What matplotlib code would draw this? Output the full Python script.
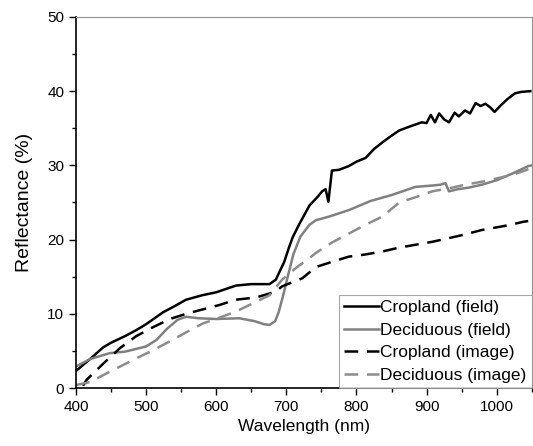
import matplotlib.pyplot as plt
from matplotlib.ticker import MultipleLocator

plt.rcParams['font.family'] = ['Liberation Sans', 'DejaVu Sans']

# Cropland (field)
crop_field_wl = [400, 410, 420, 439, 450, 470, 486, 500, 524, 540, 557, 580, 600, 628, 650,
                 676, 685, 690, 697, 704, 709, 718, 733, 745, 751, 756, 760, 765, 775, 789,
                 800, 813, 825, 837, 850, 861, 875, 893, 900, 906, 912, 918, 925, 932, 940,
                 946, 955, 962, 970, 977, 984, 991, 997, 1005, 1015, 1026, 1035, 1048]
crop_field_r = [2.3, 3.1, 3.9, 5.5, 6.1, 7.0, 7.8, 8.6, 10.2, 11.0, 11.9, 12.5, 12.9, 13.8, 14.0,
                14.0, 14.6, 15.6, 17.0, 19.0, 20.3, 22.0, 24.6, 25.8, 26.5, 26.8, 25.1, 29.3, 29.4, 29.9,
                30.5, 31.0, 32.2, 33.1, 34.0, 34.7, 35.2, 35.8, 35.7, 36.8, 35.8, 37.0, 36.2, 35.8, 37.1,
                36.6, 37.4, 37.0, 38.4, 38.0, 38.3, 37.8, 37.2, 38.0, 38.9, 39.7, 39.9, 40.0]

# Deciduous (field)
dec_field_wl = [400, 420, 448, 470, 500, 515, 530, 545, 557, 575, 600, 633, 655, 668, 676,
                684, 689, 695, 702, 710, 720, 733, 742, 761, 790, 820, 850, 884, 910, 920,
                927, 932, 945, 960, 979, 1000, 1020, 1045, 1050]
dec_field_r = [2.9, 3.9, 4.7, 4.9, 5.6, 6.5, 8.0, 9.2, 9.6, 9.4, 9.3, 9.4, 9.0, 8.6, 8.5,
               9.0, 10.2, 12.3, 15.0, 18.0, 20.4, 22.0, 22.6, 23.1, 24.0, 25.2, 26.0, 27.1, 27.3, 27.4,
               27.6, 26.5, 26.8, 27.0, 27.4, 28.0, 28.8, 29.9, 30.0]

# Cropland (image)
crop_img_wl = [410, 415, 439, 463, 486, 510, 534, 557, 581, 605, 628, 647, 657, 685, 694,
               723, 742, 765, 789, 813, 837, 860, 884, 908, 932, 955, 979, 1003, 1020, 1038, 1045]
crop_img_r = [0.3, 1.1, 3.3, 5.4, 7.0, 8.2, 9.3, 10.0, 10.6, 11.2, 11.9, 12.1, 12.2, 13.0, 13.7,
              14.8, 16.3, 17.0, 17.7, 18.0, 18.4, 18.9, 19.3, 19.7, 20.2, 20.7, 21.3, 21.7, 22.0, 22.4, 22.5]

# Deciduous (image)
dec_img_wl = [400, 420, 440, 463, 486, 510, 534, 557, 581, 605, 628, 652, 676, 694, 714,
              733, 742, 765, 789, 813, 837, 861, 884, 908, 932, 955, 979, 1003, 1025, 1043, 1050]
dec_img_r = [0.4, 0.8, 1.8, 2.9, 4.0, 5.1, 6.3, 7.5, 8.7, 9.5, 10.3, 11.4, 12.5, 14.6, 16.2,
             17.5, 18.2, 19.6, 20.8, 22.0, 23.1, 25.0, 25.7, 26.5, 26.9, 27.4, 27.8, 28.3, 28.8, 29.4, 29.8]

fig = plt.figure(figsize=(5.33, 4.46), dpi=100)
ax = fig.add_axes([0.1426, 0.130, 0.855, 0.832])

dash = (0, (5.5, 3.5))
ax.plot(crop_field_wl, crop_field_r, color='black', lw=1.8, label='Cropland (field)')
ax.plot(dec_field_wl, dec_field_r, color='#808080', lw=1.8, label='Deciduous (field)')
ax.plot(crop_img_wl, crop_img_r, color='black', lw=1.8, ls=dash, label='Cropland (image)')
ax.plot(dec_img_wl, dec_img_r, color='#8c8c8c', lw=1.8, ls=dash, label='Deciduous (image)')

ax.set_xlim(400, 1050)
ax.set_ylim(0, 50)
ax.xaxis.set_major_locator(MultipleLocator(100))
ax.xaxis.set_minor_locator(MultipleLocator(50))
ax.yaxis.set_major_locator(MultipleLocator(10))
ax.yaxis.set_minor_locator(MultipleLocator(5))
ax.tick_params(which='both', direction='out', labelsize=11, width=1)
ax.tick_params(which='major', length=5)
ax.tick_params(which='minor', length=3)

for s in ['left', 'bottom']:
    ax.spines[s].set_linewidth(1.2)
for s in ['top', 'right']:
    ax.spines[s].set_color('#909090')
    ax.spines[s].set_linewidth(0.8)

ax.set_xlabel('Wavelength (nm)', fontsize=12.5)
ax.set_ylabel('Reflectance (%)', fontsize=14, labelpad=10)

leg = ax.legend(loc='lower right', fontsize=12.5, frameon=True, fancybox=False,
                borderaxespad=0, handlelength=2.0, handletextpad=0.1,
                labelspacing=0.42, borderpad=0.3)
leg.get_frame().set_edgecolor('#909090')
leg.get_frame().set_linewidth(0.8)

fig.savefig('out.png', dpi=100)
